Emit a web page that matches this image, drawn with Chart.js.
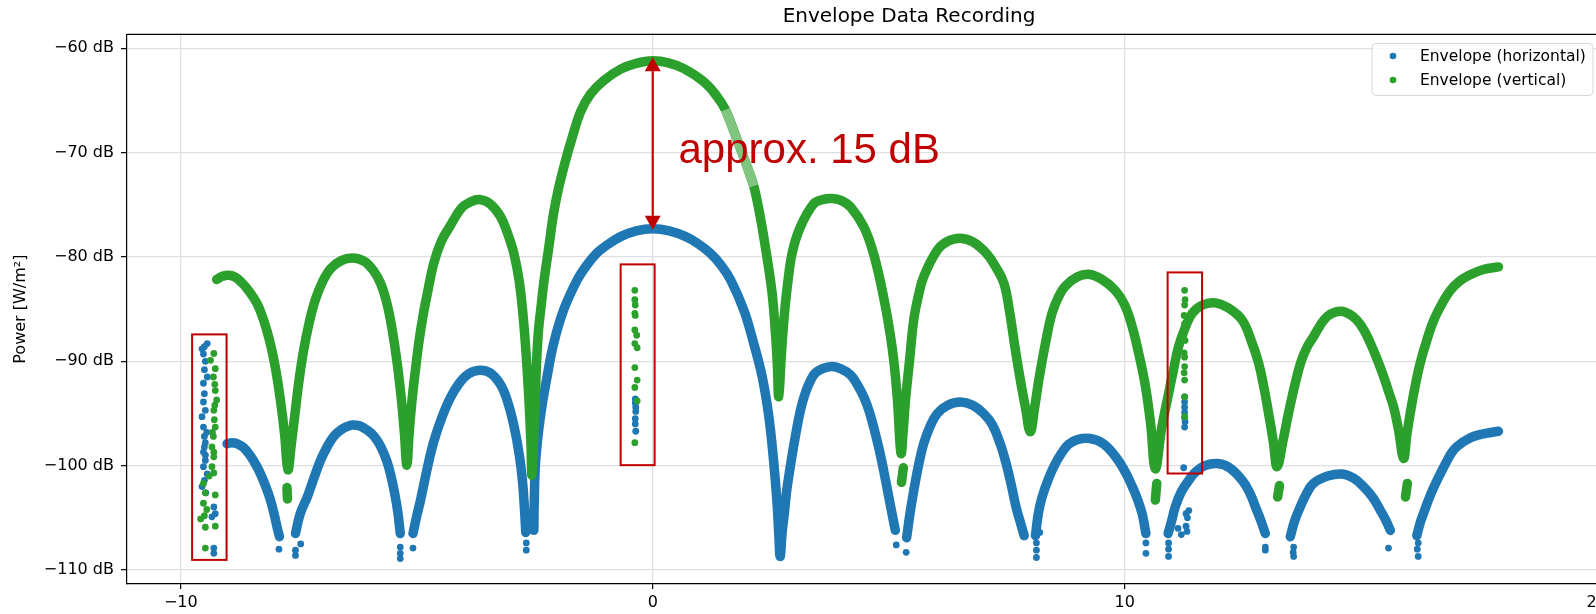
<!DOCTYPE html>
<html>
<head>
<meta charset="utf-8">
<title>Envelope Data Recording</title>
<script src="https://cdn.jsdelivr.net/npm/chart.js@4.4.1/dist/chart.umd.min.js"></script>
<style>
  html, body { margin: 0; padding: 0; overflow: hidden; background: #fff; }
  #wrap { position: absolute; left: 0; top: 0; width: 1818px; height: 614px; }
</style>
</head>
<body>
<div id="wrap"><canvas id="envelopeChart" width="1818" height="614"></canvas></div>
<script>
// tick values
const xTicks = [-10, 0, 10, 20];
const yTicks = [-110, -100, -90, -80, -70, -60];

// Envelope (horizontal): [x, dB], null = gap in the recording
const horizontalCurve = [
  [-9.02,-97.9],[-8.92,-97.8],[-8.8,-97.9],[-8.66,-98.3],[-8.52,-99.1],[-8.41,-99.9],[-8.31,-100.8],[-8.2,-102.0],[-8.1,-103.3],[-8.02,-104.7],[-7.96,-105.9],[-7.91,-106.8],
  null,
  [-7.57,-106.5],[-7.47,-104.6],[-7.32,-103.0],[-7.18,-101.2],[-7.04,-99.5],[-6.9,-98.2],[-6.76,-97.2],[-6.6,-96.55],[-6.45,-96.2],[-6.36,-96.1],[-6.2,-96.2],[-6.05,-96.6],[-5.9,-97.2],[-5.76,-98.2],[-5.64,-99.5],[-5.56,-100.75],[-5.47,-102.6],[-5.4,-104.5],[-5.35,-106.5],
  null,
  [-5.08,-106.5],[-5.0,-104.8],[-4.92,-103.3],[-4.78,-100.3],[-4.64,-97.7],[-4.47,-95.4],[-4.29,-93.5],[-4.1,-92.1],[-3.9,-91.2],[-3.67,-90.85],[-3.45,-91.1],[-3.23,-92.2],[-3.08,-93.8],[-2.94,-96.2],[-2.83,-98.9],[-2.76,-101.5],[-2.72,-104.0],[-2.69,-106.4],
  null,
  [-2.52,-106.2],[-2.51,-103.3],[-2.48,-99.5],[-2.38,-95.3],[-2.24,-91.5],[-2.1,-88.3],[-1.89,-85.1],[-1.6,-82.2],[-1.4,-80.8],[-1.18,-79.6],[-0.95,-78.8],[-0.68,-78.05],[-0.35,-77.5],[0.0,-77.3],[0.35,-77.5],[0.7,-78.05],[0.95,-78.7],[1.22,-79.65],[1.45,-80.8],[1.65,-82.2],[1.93,-85.1],[2.14,-88.3],[2.32,-91.5],[2.46,-95.3],[2.56,-99.5],[2.63,-103.3],[2.67,-106.5],[2.7,-108.7],[2.74,-106.5],[2.79,-104.5],[2.85,-102.0],[3.05,-96.5],[3.2,-93.5],[3.41,-91.3],[3.6,-90.7],[3.8,-90.5],[4.0,-90.75],[4.19,-91.3],[4.33,-92.2],[4.47,-93.4],[4.58,-94.7],[4.68,-96.3],[4.79,-98.3],[4.89,-100.4],[4.98,-102.5],[5.07,-104.6],[5.14,-106.2],
  null,
  [5.38,-106.9],[5.45,-104.6],[5.53,-102.4],[5.63,-100.0],[5.74,-97.9],[5.88,-96.2],[6.03,-95.0],[6.25,-94.2],[6.52,-93.9],[6.78,-94.2],[7.01,-95.0],[7.2,-96.1],[7.37,-98.0],[7.5,-100.0],[7.6,-101.9],[7.7,-104.0],[7.8,-105.6],[7.87,-106.7],
  null,
  [8.11,-106.7],[8.17,-104.6],[8.25,-103.0],[8.39,-101.2],[8.53,-99.8],[8.67,-98.75],[8.81,-97.95],[9.0,-97.5],[9.27,-97.4],[9.55,-97.9],[9.8,-99.1],[10.0,-100.5],[10.16,-102.0],[10.27,-103.2],[10.37,-104.6],[10.45,-106.5],
  null,
  [10.92,-106.5],[11.0,-105.2],[11.07,-103.95],[11.2,-102.5],[11.36,-101.4],[11.5,-100.6],[11.7,-100.0],[11.96,-99.8],[12.22,-100.2],[12.49,-101.4],[12.65,-102.6],[12.77,-103.95],[12.88,-105.2],[12.98,-106.5],
  null,
  [13.51,-106.8],[13.6,-105.3],[13.72,-103.95],[13.85,-102.7],[14.0,-101.7],[14.3,-101.0],[14.61,-100.8],[14.85,-101.2],[15.06,-102.0],[15.25,-103.0],[15.42,-104.3],[15.53,-105.2],[15.63,-106.2],
  null,
  [16.19,-106.7],[16.26,-105.5],[16.33,-104.6],[16.47,-102.9],[16.62,-101.4],[16.8,-99.8],[16.97,-98.5],[17.18,-97.7],[17.39,-97.2],[17.65,-96.9],[17.92,-96.7]
];

// stray samples of the horizontal envelope
const horizontalDots = [
  [-9.55,-88.8],[-9.44,-88.3],[-9.5,-88.6],[-9.52,-89.3],[-9.48,-90.0],[-9.5,-90.8],[-9.44,-91.5],[-9.52,-92.1],[-9.5,-93.1],[-9.52,-93.9],[-9.48,-94.7],[-9.55,-95.3],[-9.52,-96.3],[-9.45,-96.8],[-9.5,-97.2],[-9.48,-97.8],[-9.5,-98.2],[-9.52,-98.7],[-9.48,-99.0],[-9.48,-99.5],[-9.52,-100.1],[-9.44,-100.8],[-9.5,-101.4],[-9.55,-102.0],[-9.47,-102.6],[-9.3,-103.95],[-9.27,-104.6],[-9.34,-104.9],[-9.3,-107.9],[-9.3,-108.4],
  [-7.92,-108.0],[-7.57,-108.1],[-7.57,-108.6],[-7.46,-107.5],
  [-5.35,-107.8],[-5.35,-108.4],[-5.35,-108.9],[-5.08,-107.9],
  [-2.68,-107.4],[-2.68,-108.1],
  [-0.37,-93.6],[-0.37,-94.0],[-0.36,-94.4],[-0.36,-94.8],[-0.37,-95.5],[-0.37,-96.0],[-0.36,-96.7],
  [5.16,-107.6],[5.37,-108.3],
  [8.13,-107.4],[8.13,-108.1],[8.13,-108.8],[8.2,-106.4],
  [10.45,-107.4],[10.45,-108.4],
  [10.93,-107.4],[10.93,-108.0],[10.93,-108.7],
  [11.27,-93.4],[11.27,-93.9],[11.27,-94.4],[11.27,-94.9],[11.27,-95.4],[11.28,-95.8],[11.27,-96.3],[11.25,-100.2],
  [11.3,-104.6],[11.36,-104.3],[11.33,-105.0],[11.3,-105.8],[11.32,-106.3],[11.2,-106.6],[11.13,-106.0],
  [12.98,-107.8],[12.98,-108.1],
  [13.58,-107.8],[13.57,-108.3],[13.58,-108.7],
  [15.59,-107.9],
  [16.22,-107.4],[16.2,-108.0],[16.22,-108.7]
];

// Envelope (vertical)
const verticalCurve = [
  [-9.24,-82.15],[-9.12,-81.85],[-8.98,-81.75],[-8.84,-81.95],[-8.7,-82.5],[-8.55,-83.3],[-8.38,-84.5],[-8.25,-86.0],[-8.12,-88.0],[-8.0,-90.5],[-7.89,-93.7],[-7.8,-97.0],[-7.73,-100.4],
  [-7.66,-98.0],[-7.58,-95.0],[-7.5,-92.0],[-7.4,-89.0],[-7.28,-86.3],[-7.15,-84.1],[-7.0,-82.4],[-6.82,-81.1],[-6.6,-80.35],[-6.36,-80.1],[-6.12,-80.4],[-5.92,-81.3],[-5.76,-82.6],[-5.63,-84.5],[-5.52,-87.0],[-5.42,-90.0],[-5.33,-93.5],[-5.26,-97.0],[-5.21,-99.95],
  [-5.16,-96.8],[-5.1,-93.7],[-5.02,-90.5],[-4.95,-88.0],[-4.87,-85.7],[-4.78,-83.6],[-4.64,-80.6],[-4.48,-78.5],[-4.29,-77.0],[-4.05,-75.3],[-3.85,-74.7],[-3.67,-74.5],[-3.45,-74.9],[-3.23,-76.1],[-3.08,-77.7],[-2.94,-79.7],[-2.83,-82.3],[-2.75,-85.5],[-2.68,-89.5],[-2.62,-94.0],[-2.58,-98.0],[-2.56,-100.9],
  [-2.52,-97.0],[-2.49,-93.7],[-2.46,-90.0],[-2.42,-87.0],[-2.36,-84.5],[-2.31,-82.5],[-2.2,-79.0],[-2.1,-75.8],[-1.99,-73.3],[-1.85,-70.8],[-1.71,-68.6],[-1.53,-66.1],[-1.32,-64.4],[-1.04,-63.1],[-0.68,-62.0],[-0.35,-61.45],[0.0,-61.2],[0.33,-61.4],[0.66,-61.95],[1.08,-63.2],[1.36,-64.6],[1.54,-65.9],[1.79,-68.8],[2.0,-71.35],[2.14,-73.2],[2.28,-76.2],[2.42,-80.0],[2.53,-83.5],[2.6,-87.3],[2.64,-90.3],[2.67,-93.4],
  [2.72,-89.8],[2.78,-86.0],[2.86,-82.5],[2.96,-79.5],[3.13,-77.1],[3.41,-74.9],[3.6,-74.5],[3.8,-74.4],[4.0,-74.6],[4.19,-75.2],[4.47,-77.1],[4.68,-79.7],[4.89,-83.8],[5.07,-88.6],[5.18,-93.4],[5.26,-98.8],
  [5.31,-96.5],[5.35,-94.0],[5.44,-90.0],[5.53,-86.05],[5.63,-83.7],[5.74,-81.9],[6.03,-79.35],[6.25,-78.5],[6.52,-78.2],[6.8,-78.6],[7.08,-79.7],[7.26,-80.9],[7.44,-82.5],[7.56,-85.2],[7.67,-88.5],[7.79,-91.8],[7.9,-94.5],[8.0,-96.75],
  [8.09,-94.5],[8.18,-91.8],[8.32,-88.3],[8.46,-85.4],[8.6,-83.8],[8.74,-82.8],[9.0,-81.9],[9.24,-81.65],[9.5,-82.1],[9.8,-83.2],[10.0,-84.6],[10.16,-86.7],[10.3,-89.3],[10.44,-92.4],[10.55,-96.0],[10.65,-100.3],
  [10.78,-96.5],[10.93,-93.1],[11.04,-90.7],[11.14,-88.6],[11.28,-86.8],[11.43,-85.4],[11.65,-84.6],[11.92,-84.4],[12.2,-84.9],[12.49,-86.05],[12.68,-88.0],[12.84,-90.2],[12.95,-92.5],[13.05,-95.0],[13.15,-97.7],[13.23,-100.1],
  [13.36,-97.5],[13.47,-95.0],[13.62,-92.0],[13.74,-90.0],[13.87,-88.6],[14.0,-87.65],[14.15,-86.5],[14.29,-85.7],[14.45,-85.3],[14.61,-85.2],[14.77,-85.5],[14.92,-86.05],[15.07,-87.0],[15.21,-88.3],[15.35,-89.8],[15.49,-91.5],[15.6,-93.0],[15.7,-94.4],[15.8,-96.5],[15.91,-99.3],
  [15.98,-97.0],[16.05,-95.0],[16.15,-92.5],[16.26,-90.2],[16.4,-88.0],[16.55,-86.05],[16.72,-84.5],[16.9,-83.2],[17.1,-82.3],[17.32,-81.7],[17.6,-81.2],[17.92,-80.95],
  null, [-7.75,-102.1],[-7.74,-103.2],
  null, [5.31,-100.2],[5.27,-101.6],
  null, [10.68,-101.7],[10.65,-103.3],
  null, [13.28,-101.9],[13.24,-103.0],
  null, [15.99,-101.7],[15.95,-103.0]
];

// part of the main lobe where the samples are sparse (drawn lighter)
const verticalSparse = [[1.54,-65.9],[1.79,-68.8],[2.0,-71.35],[2.14,-73.2]];

// stray samples of the vertical envelope
const verticalDots = [
  [-9.3,-89.25],[-9.37,-89.9],[-9.27,-90.7],[-9.31,-91.5],[-9.28,-92.2],[-9.27,-92.8],[-9.24,-93.7],[-9.28,-94.2],[-9.3,-94.7],[-9.29,-95.6],[-9.27,-96.3],[-9.33,-96.8],[-9.31,-97.2],[-9.34,-98.2],[-9.3,-98.7],[-9.3,-99.15],[-9.34,-100.1],[-9.3,-100.7],[-9.4,-101.0],[-9.52,-101.7],[-9.48,-102.6],[-9.27,-102.8],[-9.52,-103.6],[-9.45,-104.2],[-9.5,-104.8],[-9.58,-105.1],[-9.48,-105.9],[-9.27,-105.8],[-9.48,-107.9],
  [-0.38,-83.2],[-0.38,-84.1],[-0.37,-84.6],[-0.38,-85.4],[-0.37,-85.6],[-0.38,-87.0],[-0.34,-87.5],[-0.38,-88.3],[-0.33,-88.7],[-0.38,-90.6],[-0.33,-91.8],[-0.38,-92.5],[-0.33,-93.8],[-0.38,-97.8],
  [11.27,-83.2],[11.28,-84.1],[11.27,-84.6],[11.26,-85.6],[11.27,-86.4],[11.28,-88.0],[11.26,-89.2],[11.27,-89.6],[11.27,-90.5],[11.26,-91.1],[11.27,-91.8],[11.27,-93.4],[11.27,-95.3]
];

// annotation: red boxes around the outliers and the 15 dB arrow
const outlierBoxes = [
  { x0: -9.76, x1: -9.03, y0: -87.42, y1: -109.03 },
  { x0: -0.68, x1: 0.04, y0: -80.71, y1: -99.95 },
  { x0: 10.91, x1: 11.64, y0: -81.48, y1: -100.75 }
];
const arrowX = 0;
const arrowTop = -60.85;
const arrowBottom = -77.4;
const noteText = "approx. 15 dB";
const noteAt = { x: 0.545, y: -71.03 };

const BLUE = "#1f77b4";
const GREEN = "#2ca02c";
const GREEN_SPARSE = "#80c680";
const RED = "#c00000";
const FONT = "'DejaVu Sans', Verdana, sans-serif";

function toPoints(list) {
    return list.map(p => p ? { x: p[0], y: p[1] } : { x: null, y: null });
}

function minus(v) {
    return String(v).replace("-", "\u2212");
}

function curve(label, list, color, order, inLegend) {
    return {
        label: label,
        data: toPoints(list),
        showLine: true,
        borderColor: color,
        backgroundColor: color,
        borderWidth: 9.5,
        borderCapStyle: "round",
        borderJoinStyle: "round",
        tension: 0.4,
        pointRadius: 0,
        pointHitRadius: 0,
        spanGaps: false,
        order: order,
        inLegend: inLegend
    };
}

function dots(label, list, color, order) {
    return {
        label: label,
        data: toPoints(list),
        showLine: false,
        backgroundColor: color,
        borderWidth: 0,
        pointRadius: 3.4,
        order: order
    };
}

const sparseLine = curve("sparse", verticalSparse, GREEN_SPARSE, 0, false);
sparseLine.borderCapStyle = "butt";

const decorations = {
    id: "decorations",
    afterDraw(chart) {
        const { ctx, chartArea, scales } = chart;
        const xs = scales.x, ys = scales.y;
        ctx.save();

        // top spine
        ctx.strokeStyle = "#000";
        ctx.lineWidth = 1.2;
        ctx.beginPath();
        ctx.moveTo(chartArea.left, chartArea.top);
        ctx.lineTo(chartArea.right, chartArea.top);
        ctx.stroke();

        // outlier boxes
        ctx.strokeStyle = RED;
        ctx.lineWidth = 2;
        outlierBoxes.forEach(b => {
            const l = xs.getPixelForValue(b.x0), r = xs.getPixelForValue(b.x1);
            const t = ys.getPixelForValue(b.y0), btm = ys.getPixelForValue(b.y1);
            ctx.strokeRect(l, t, r - l, btm - t);
        });

        // double arrow
        const ax = xs.getPixelForValue(arrowX);
        const aTop = ys.getPixelForValue(arrowTop);
        const aBot = ys.getPixelForValue(arrowBottom);
        const headLen = 14, headHalf = 8;
        ctx.lineWidth = 2.2;
        ctx.beginPath();
        ctx.moveTo(ax, aTop + headLen);
        ctx.lineTo(ax, aBot - headLen);
        ctx.stroke();
        ctx.fillStyle = RED;
        ctx.beginPath();
        ctx.moveTo(ax, aTop);
        ctx.lineTo(ax - headHalf, aTop + headLen);
        ctx.lineTo(ax + headHalf, aTop + headLen);
        ctx.closePath();
        ctx.fill();
        ctx.beginPath();
        ctx.moveTo(ax, aBot);
        ctx.lineTo(ax - headHalf, aBot - headLen);
        ctx.lineTo(ax + headHalf, aBot - headLen);
        ctx.closePath();
        ctx.fill();

        ctx.font = "42px 'Liberation Sans', Arial, sans-serif";
        ctx.textBaseline = "alphabetic";
        ctx.textAlign = "left";
        ctx.fillText(noteText, xs.getPixelForValue(noteAt.x), ys.getPixelForValue(noteAt.y));

        // legend box
        const entries = chart.data.datasets.filter(d => d.inLegend);
        const lx = 1372, ly = 43.5, lw = 221, lh = 52, rad = 4;
        ctx.beginPath();
        ctx.moveTo(lx + rad, ly);
        ctx.arcTo(lx + lw, ly, lx + lw, ly + lh, rad);
        ctx.arcTo(lx + lw, ly + lh, lx, ly + lh, rad);
        ctx.arcTo(lx, ly + lh, lx, ly, rad);
        ctx.arcTo(lx, ly, lx + lw, ly, rad);
        ctx.closePath();
        ctx.fillStyle = "rgba(255,255,255,0.8)";
        ctx.fill();
        ctx.strokeStyle = "#d6d6d6";
        ctx.lineWidth = 1;
        ctx.stroke();

        ctx.font = "15.5px " + FONT;
        ctx.textBaseline = "middle";
        entries.forEach((d, i) => {
            const cy = 56 + i * 24;
            ctx.fillStyle = d.borderColor;
            ctx.beginPath();
            ctx.arc(1393, cy, 3.3, 0, Math.PI * 2);
            ctx.fill();
            ctx.fillStyle = "#000";
            ctx.fillText(d.label, 1420, cy + 1);
        });
        ctx.restore();
    }
};

document.addEventListener("DOMContentLoaded", () => {
    const canvas = document.getElementById("envelopeChart");
    new Chart(canvas.getContext("2d"), {
        type: "scatter",
        data: {
            datasets: [
                curve("Envelope (horizontal)", horizontalCurve, BLUE, 2, true),
                dots("horizontal stray", horizontalDots, BLUE, 2),
                curve("Envelope (vertical)", verticalCurve, GREEN, 1, true),
                sparseLine,
                dots("vertical stray", verticalDots, GREEN, 1)
            ]
        },
        options: {
            responsive: false,
            animation: false,
            layout: { padding: { left: 0, right: 127, top: 0, bottom: 0 } },
            scales: {
                x: {
                    type: "linear",
                    min: -11.14,
                    max: 22.0,
                    afterBuildTicks: s => { s.ticks = xTicks.map(v => ({ value: v })); },
                    afterFit: s => { s.height = 30; },
                    ticks: {
                        callback: v => minus(v),
                        color: "#000",
                        font: { family: FONT, size: 16 },
                        padding: 4,
                        maxRotation: 0,
                        autoSkip: false
                    },
                    grid: { color: "#e0e0e0", lineWidth: 1.3, tickLength: 5, tickColor: "#000", tickWidth: 1.2 },
                    border: { color: "#000", width: 1.2 }
                },
                y: {
                    type: "linear",
                    min: -111.34,
                    max: -58.66,
                    afterBuildTicks: s => { s.ticks = yTicks.map(v => ({ value: v })); },
                    afterFit: s => { s.width = 127; },
                    ticks: {
                        callback: v => minus(v) + " dB",
                        color: "#000",
                        font: { family: FONT, size: 16 },
                        padding: 7
                    },
                    grid: { color: "#e0e0e0", lineWidth: 1.3, tickLength: 6, tickColor: "#000", tickWidth: 1.2 },
                    border: { color: "#000", width: 1.2 },
                    title: {
                        display: true,
                        text: "Power [W/m²]",
                        color: "#000",
                        font: { family: FONT, size: 16 },
                        padding: { top: 11, bottom: 0 }
                    }
                }
            },
            plugins: {
                title: {
                    display: true,
                    fullSize: false,
                    text: "Envelope Data Recording",
                    color: "#000",
                    font: { family: FONT, size: 20, weight: "normal" },
                    padding: { top: 5, bottom: 5.3 }
                },
                legend: { display: false },
                tooltip: { enabled: false }
            }
        },
        plugins: [decorations]
    });
});
</script>
</body>
</html>
